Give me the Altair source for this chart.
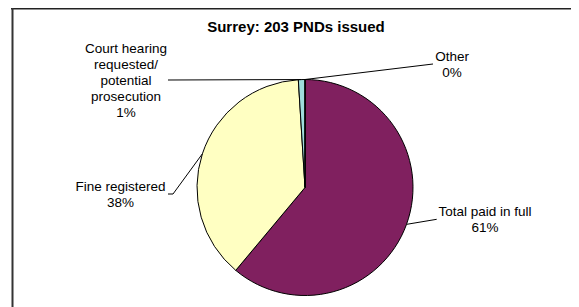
import altair as alt
import pandas as pd

# ---- data ----
categories = [
    "Total paid in full",
    "Fine registered",
    "Court hearing\nrequested/\npotential\nprosecution",
    "Other",
]
counts = [124, 77, 2, 0]
colors = ["#80205F", "#FFFFC2", "#9FDCDC", "#9999FF"]
title_text = "Surrey: 203 PNDs issued"

# ---- layout (page pixels; page margin is 8px) ----
OX, OY = 8, 8
CX, CY, R = 305 - OX, 187.5 - OY, 108
label_x = [485, 120.5, 126, 452]
label_y = [215.7, 190.7, 53, 60.7]      # baseline of first line
elbow_x = [436.7, 173, 168, 433]
elbow_y = [219.3, 194, 80, 64]
end_x = [436.7, 168, 168, 433]

df = pd.DataFrame({
    "category": categories,
    "count": counts,
    "idx": list(range(len(categories))),
    "lx": [v - OX for v in label_x],
    "ly": [v - OY for v in label_y],
    "ex": [v - OX for v in elbow_x],
    "ey": [v - OY for v in elbow_y],
    "fx": [v - OX for v in end_x],
})

base = (
    alt.Chart(df)
    .transform_joinaggregate(total="sum(count)")
    .transform_window(cum="sum(count)", sort=[alt.SortField("idx")], frame=[None, 0])
    .transform_calculate(
        mid="(datum.cum - datum.count / 2) / datum.total * 2 * PI",
        pct="format(datum.count / datum.total, '.0%')",
    )
    .transform_calculate(
        px=f"{CX} + {R} * sin(datum.mid)",
        py=f"{CY} - {R} * cos(datum.mid)",
        label="datum.category + '\\n' + datum.pct",
    )
)

one = pd.DataFrame({"a": [0]})
frame_top = alt.Chart(one).mark_rule(color="#222222", strokeWidth=1.6).encode(
    x=alt.value(3), x2=alt.value(600), y=alt.value(0.8)
)
frame_left = alt.Chart(one).mark_rule(color="#333333", strokeWidth=2).encode(
    x=alt.value(4.5), y=alt.value(0), y2=alt.value(400)
)

pie = alt.Chart(df).mark_arc(outerRadius=R, stroke="black", strokeWidth=1).encode(
    theta=alt.Theta("count:Q", stack=True),
    color=alt.Color("category:N", scale=alt.Scale(domain=categories, range=colors), legend=None),
    order=alt.Order("idx:Q"),
    x=alt.value(CX),
    y=alt.value(CY),
)

lead1 = base.mark_rule(color="black", strokeWidth=1).encode(
    x=alt.X("px:Q", scale=None, axis=None),
    y=alt.Y("py:Q", scale=None, axis=None),
    x2="ex:Q",
    y2="ey:Q",
)
lead2 = base.mark_rule(color="black", strokeWidth=1).encode(
    x=alt.X("ex:Q", scale=None, axis=None),
    y=alt.Y("ey:Q", scale=None, axis=None),
    x2="fx:Q",
)

labels = base.mark_text(
    lineBreak="\n", fontSize=13.5, font="Liberation Sans", align="center",
    baseline="alphabetic", lineHeight=16, color="black",
).encode(
    x=alt.X("lx:Q", scale=None, axis=None),
    y=alt.Y("ly:Q", scale=None, axis=None),
    text="label:N",
)

title = alt.Chart(pd.DataFrame({"t": [title_text]})).mark_text(
    fontSize=15, fontWeight="bold", font="Liberation Sans", align="center",
    baseline="alphabetic", color="black",
).encode(x=alt.value(296 - OX), y=alt.value(31.5 - OY), text="t:N")

chart = alt.layer(frame_top, frame_left, pie, lead1, lead2, labels, title).properties(
    width=563, height=299, autosize="none", padding=0
).configure_view(strokeWidth=0)

chart.save("out.html", embed_options={"renderer": "svg", "actions": False})
